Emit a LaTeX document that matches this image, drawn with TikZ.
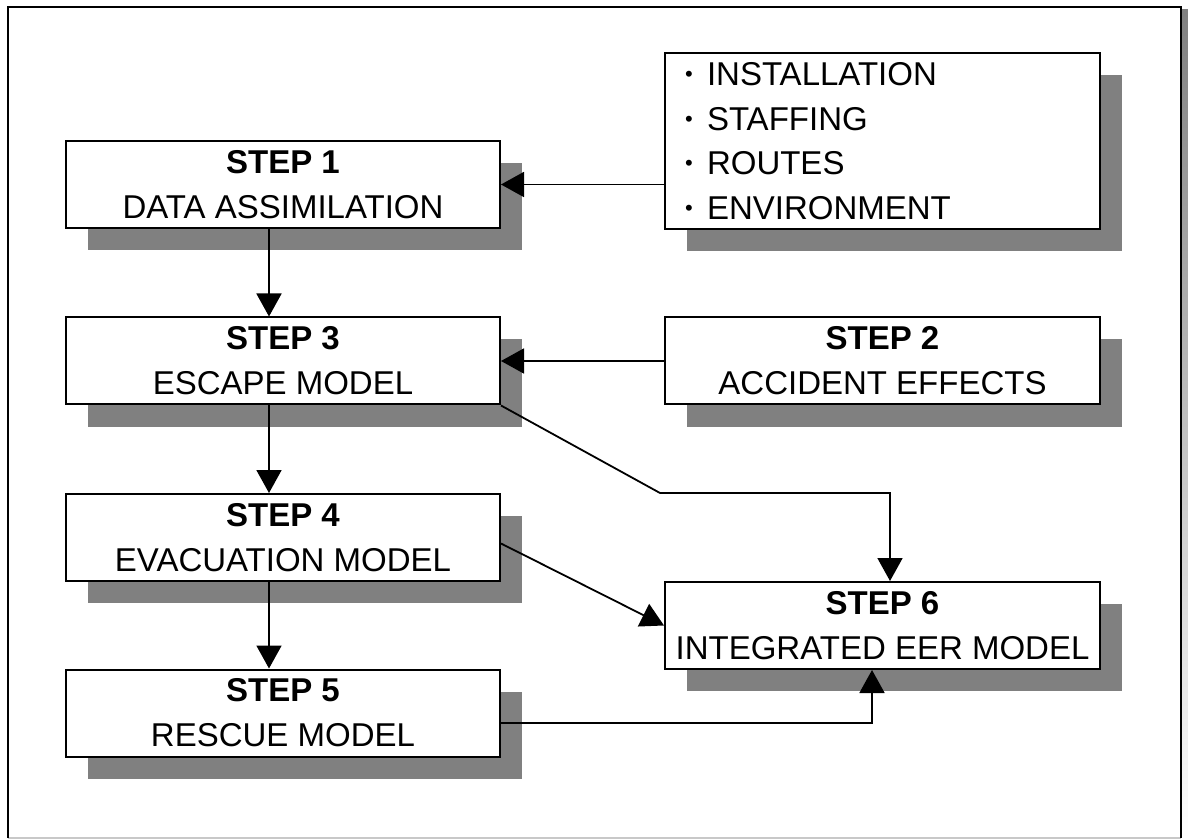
\documentclass[tikz,border=0pt]{standalone}
\usepackage{fontspec}
\setmainfont{Liberation Sans}
\usetikzlibrary{arrows.meta,shadows}
\definecolor{shade}{HTML}{808080}
\definecolor{rimgray}{HTML}{C8C8C8}
\newcommand{\listdot}{\makebox[11pt][l]{\raisebox{2pt}{\fontsize{11}{11}\selectfont\textbullet}}}
\begin{document}
\begin{tikzpicture}[x=0.5pt,y=-0.5pt,
  box/.style={draw=black,line width=1pt,fill=white,
    minimum width=217pt,minimum height=43.5pt,inner sep=0pt,align=center,
    font=\fontsize{16.5}{22.5}\selectfont,
    drop shadow={shadow xshift=11pt,shadow yshift=-11pt,fill=shade,opacity=1}},
  listbox/.style={box,minimum width=217.5pt,minimum height=88pt,
    text width=197.5pt,inner xsep=10pt,align=left,
    font=\fontsize{16.5}{22.3}\selectfont},
  arr/.style={line width=0.9pt,-{Triangle[width=12.5pt,length=11.5pt]}}]
\useasboundingbox (0,0) rectangle (1188,839);

% outer frame
\fill[shade] (1182,10) rectangle (1188,839);
\draw[rimgray,line width=1pt] (8,838) -- (1181,838);
\draw[line width=1pt] (8,838) -- (8,7) -- (1181,7) -- (1181,838);

% process steps
\node[box] (s1) at (283,184.5) {\textbf{STEP 1}\\DATA ASSIMILATION};
\node[box] (s3) at (283,361) {\textbf{STEP 3}\\ESCAPE MODEL};
\node[box] (s4) at (283,537.5) {\textbf{STEP 4}\\EVACUATION MODEL};
\node[box] (s5) at (283,713) {\textbf{STEP 5}\\RESCUE MODEL};
\node[box,minimum width=217.5pt] (s2) at (882.5,361) {\textbf{STEP 2}\\ACCIDENT EFFECTS};
\node[box,minimum width=217.5pt] (s6) at (882.5,625.5) {\textbf{STEP 6}\\INTEGRATED EER MODEL};
\node[listbox] (inp) at (882.5,141) {\listdot INSTALLATION\\\listdot STAFFING\\\listdot ROUTES\\\listdot ENVIRONMENT};

% connectors
\coordinate (bend) at (660,493);
\draw[arr] (inp.west |- s1.east) -- (s1.east);
\draw[arr] (s2.west) -- (s3.east);
\draw[arr] ([xshift=-7pt]s1.south) -- ([xshift=-7pt]s3.north);
\draw[arr] ([xshift=-7pt]s3.south) -- ([xshift=-7pt]s4.north);
\draw[arr] ([xshift=-7pt]s4.south) -- ([xshift=-7pt]s5.north);
\draw[arr] (s3.south east) -- (bend) -| ([xshift=3.75pt]s6.north);
\draw[arr] ([yshift=-3pt]s4.east) -- (s6.west);
\draw[arr] ([yshift=-5pt]s5.east) -| ([xshift=-5.25pt]s6.south);
\end{tikzpicture}
\end{document}
